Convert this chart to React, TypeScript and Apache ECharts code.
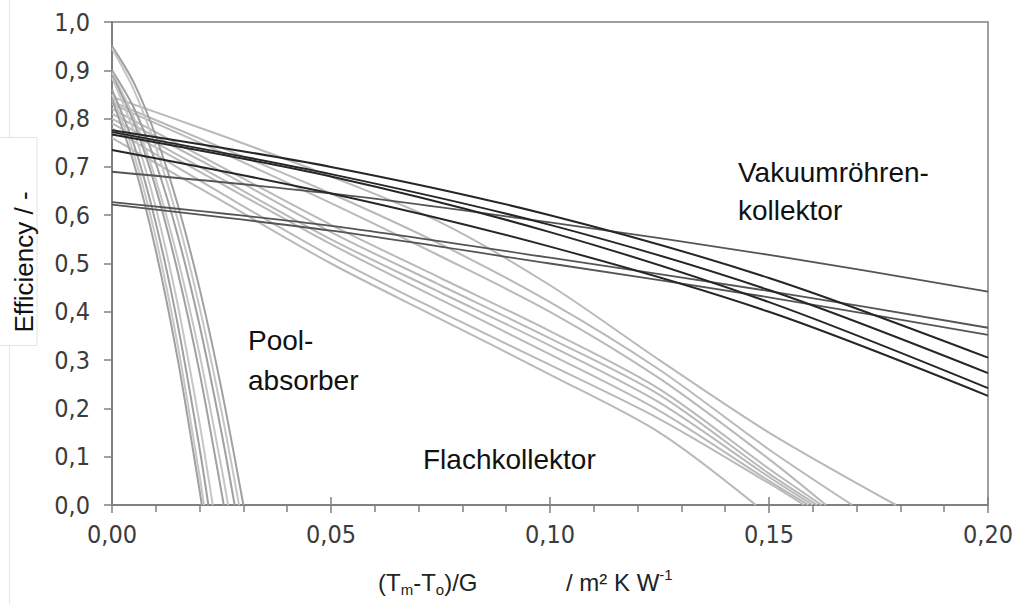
import React, { useEffect, useRef } from "react";
import * as echarts from "echarts";

// ---- data ----
const xTickLabels = ["0,00", "0,05", "0,10", "0,15", "0,20"];
const yTickLabels = ["0,0", "0,1", "0,2", "0,3", "0,4", "0,5", "0,6", "0,7", "0,8", "0,9", "1,0"];

// Vakuumröhrenkollektor
const vakuumX = [0, 0.05, 0.1, 0.15, 0.2];
const vakuumBlack = [
  [0.776, 0.7, 0.6, 0.47, 0.305],
  [0.772, 0.685, 0.58, 0.445, 0.273],
  [0.767, 0.68, 0.565, 0.42, 0.242],
  [0.735, 0.645, 0.535, 0.4, 0.226],
];
const vakuumGray = [
  [0.69, 0.645, 0.585, 0.518, 0.442],
  [0.627, 0.578, 0.512, 0.443, 0.367],
  [0.622, 0.568, 0.5, 0.43, 0.352],
];

// Flachkollektor
const flatX = [0, 0.025, 0.05, 0.075, 0.1, 0.125, 0.15];
const flatValues = [
  [0.845, 0.765, 0.68, 0.585, 0.455, 0.3, 0.15],
  [0.835, 0.74, 0.645, 0.54, 0.42, 0.28, 0.115],
  [0.83, 0.73, 0.625, 0.515, 0.4, 0.262, 0.095],
  [0.82, 0.7, 0.58, 0.47, 0.36, 0.24, 0.075],
  [0.81, 0.69, 0.565, 0.455, 0.345, 0.228, 0.065],
  [0.8, 0.675, 0.55, 0.44, 0.33, 0.212, 0.058],
  [0.79, 0.665, 0.54, 0.425, 0.312, 0.195, 0.05],
  [0.78, 0.645, 0.515, 0.4, 0.29, 0.178, 0.045],
  [0.76, 0.63, 0.5, 0.385, 0.27, 0.15],
];
const flatEnds = [0.179, 0.169, 0.163, 0.162, 0.161, 0.16, 0.159, 0.158, 0.147];

// Poolabsorber
const poolX = [0, 0.005, 0.01, 0.015, 0.02, 0.025];
const poolValues = [
  [0.95, 0.874, 0.764, 0.622, 0.448, 0.24],
  [0.945, 0.859, 0.741, 0.591, 0.409, 0.194],
  [0.9, 0.822, 0.708, 0.558, 0.372, 0.15],
  [0.895, 0.802, 0.674, 0.511, 0.312, 0.077],
  [0.89, 0.792, 0.656, 0.483, 0.274, 0.027],
  [0.885, 0.773, 0.616, 0.415, 0.169],
  [0.86, 0.746, 0.584, 0.374, 0.117],
  [0.85, 0.726, 0.553, 0.331, 0.06],
  [0.84, 0.707, 0.527, 0.302, 0.03],
];
const poolEnds = [0.03, 0.029, 0.028, 0.0265, 0.0255, 0.023, 0.022, 0.021, 0.0205];

function toPairs(xs: number[], ys: number[], endX?: number) {
  const d: number[][] = ys.map((y, i) => [xs[i], y]);
  if (endX !== undefined) d.push([endX, 0]);
  return d;
}

const AXIS = "#808080";
const TICK_FONT = "'DejaVu Sans Condensed', 'DejaVu Sans', sans-serif";
const TEXT_FONT = "'Liberation Sans', Arial, sans-serif";

export default function App() {
  const ref = useRef<HTMLDivElement>(null);
  useEffect(() => {
    if (!ref.current) return;
    const chart = echarts.init(ref.current, undefined, { renderer: "svg" });
    const series: any[] = [];
    flatValues.forEach((ys, i) => {
      series.push({
        type: "line",
        data: toPairs(flatX, ys, flatEnds[i]),
        showSymbol: false,
        smooth: 0.3,
        lineStyle: { color: "#b9b9b9", width: 2 },
        silent: true,
      });
    });
    poolValues.forEach((ys, i) => {
      series.push({
        type: "line",
        data: toPairs(poolX, ys, poolEnds[i]),
        showSymbol: false,
        smooth: 0.3,
        lineStyle: { color: i % 2 === 0 ? "#a0a0a0" : "#c6c6c6", width: 2 },
        silent: true,
      });
    });
    vakuumGray.forEach((ys) => {
      series.push({
        type: "line",
        data: toPairs(vakuumX, ys),
        showSymbol: false,
        smooth: 0.3,
        lineStyle: { color: "#555555", width: 1.8 },
        silent: true,
      });
    });
    vakuumBlack.forEach((ys) => {
      series.push({
        type: "line",
        data: toPairs(vakuumX, ys),
        showSymbol: false,
        smooth: 0.3,
        lineStyle: { color: "#262626", width: 2 },
        silent: true,
      });
    });

    chart.setOption({
      animation: false,
      backgroundColor: "#ffffff",
      grid: {
        left: 112,
        top: 22,
        right: 30,
        bottom: 99,
        show: true,
        borderColor: AXIS,
        borderWidth: 1.5,
        backgroundColor: "transparent",
      },
      xAxis: [
        {
          type: "value",
          min: 0,
          max: 0.2,
          interval: 0.05,
          axisLine: { show: true, lineStyle: { color: AXIS, width: 2 } },
          axisTick: { show: true, length: 8, lineStyle: { color: AXIS, width: 1.5 } },
          minorTick: { show: true, splitNumber: 5, length: 7, lineStyle: { color: AXIS, width: 1.5 } },
          splitLine: { show: false },
          minorSplitLine: { show: false },
          axisLabel: {
            formatter: (v: number) => xTickLabels[Math.round(v / 0.05)] ?? "",
            fontFamily: TICK_FONT,
            fontSize: 25,
            color: "#3c3c3c",
            margin: 17,
          },
        },
        {
          type: "value",
          min: 0,
          max: 0.2,
          interval: 0.05,
          position: "bottom",
          axisLine: { show: false },
          axisTick: { show: true, inside: true, length: 8, lineStyle: { color: AXIS, width: 1.5 } },
          axisLabel: { show: false },
          splitLine: { show: false },
        },
      ],
      yAxis: {
        type: "value",
        min: 0,
        max: 1,
        interval: 0.1,
        axisLine: { show: true, lineStyle: { color: AXIS, width: 2 } },
        axisTick: { show: true, length: 8, lineStyle: { color: AXIS, width: 1.5 } },
        splitLine: { show: false },
        axisLabel: {
          formatter: (v: number) => yTickLabels[Math.round(v * 10)] ?? "",
          fontFamily: TICK_FONT,
          fontSize: 25,
          color: "#3c3c3c",
          margin: 22,
        },
      },
      series,
      graphic: [
        { type: "line", shape: { x1: 9.5, y1: 0, x2: 9.5, y2: 137 }, style: { stroke: "#e6e6e6", lineWidth: 1 }, silent: true },
        { type: "line", shape: { x1: 9.5, y1: 345, x2: 9.5, y2: 604 }, style: { stroke: "#e6e6e6", lineWidth: 1 }, silent: true },
        { type: "rect", shape: { x: -1, y: 137.5, width: 38, height: 208 }, style: { fill: "#ffffff", stroke: "#e3e3e3", lineWidth: 1 }, silent: true },
        {
          type: "text",
          x: 24,
          y: 262,
          rotation: Math.PI / 2,
          style: { text: "Efficiency / -", fontFamily: TEXT_FONT, fontSize: 26, fill: "#111", align: "center", verticalAlign: "middle" },
        },
        {
          type: "text",
          x: 378,
          y: 582,
          style: {
            text: "{n|(T}{s|m}{n|-T}{s|o}{n|)/G}",
            fontFamily: TEXT_FONT,
            fill: "#222",
            align: "left",
            verticalAlign: "middle",
            rich: {
              n: { fontSize: 24, fontFamily: TEXT_FONT, lineHeight: 30, verticalAlign: "middle", fill: "#222" },
              s: { fontSize: 15, fontFamily: TEXT_FONT, lineHeight: 15, verticalAlign: "bottom", fill: "#222" },
            },
          },
        },
        {
          type: "text",
          x: 566,
          y: 582,
          style: {
            text: "{n|/ m² K W}{p|-1}",
            fontFamily: TEXT_FONT,
            fill: "#222",
            align: "left",
            verticalAlign: "middle",
            rich: {
              n: { fontSize: 24, fontFamily: TEXT_FONT, lineHeight: 30, verticalAlign: "middle", fill: "#222" },
              p: { fontSize: 15, fontFamily: TEXT_FONT, lineHeight: 15, verticalAlign: "top", fill: "#222" },
            },
          },
        },
        { type: "text", x: 738, y: 172, style: { text: "Vakuumröhren-", fontFamily: TEXT_FONT, fontSize: 28, fill: "#111", align: "left", verticalAlign: "middle" } },
        { type: "text", x: 738, y: 210, style: { text: "kollektor", fontFamily: TEXT_FONT, fontSize: 28, fill: "#111", align: "left", verticalAlign: "middle" } },
        { type: "text", x: 248, y: 340, style: { text: "Pool-", fontFamily: TEXT_FONT, fontSize: 28, fill: "#111", align: "left", verticalAlign: "middle" } },
        { type: "text", x: 248, y: 380, style: { text: "absorber", fontFamily: TEXT_FONT, fontSize: 28, fill: "#111", align: "left", verticalAlign: "middle" } },
        { type: "text", x: 423, y: 459, style: { text: "Flachkollektor", fontFamily: TEXT_FONT, fontSize: 28, fill: "#111", align: "left", verticalAlign: "middle" } },
      ],
    });
    return () => chart.dispose();
  }, []);
  return <div ref={ref} style={{ position: "fixed", left: 0, top: 0, width: 1018, height: 604 }} />;
}
